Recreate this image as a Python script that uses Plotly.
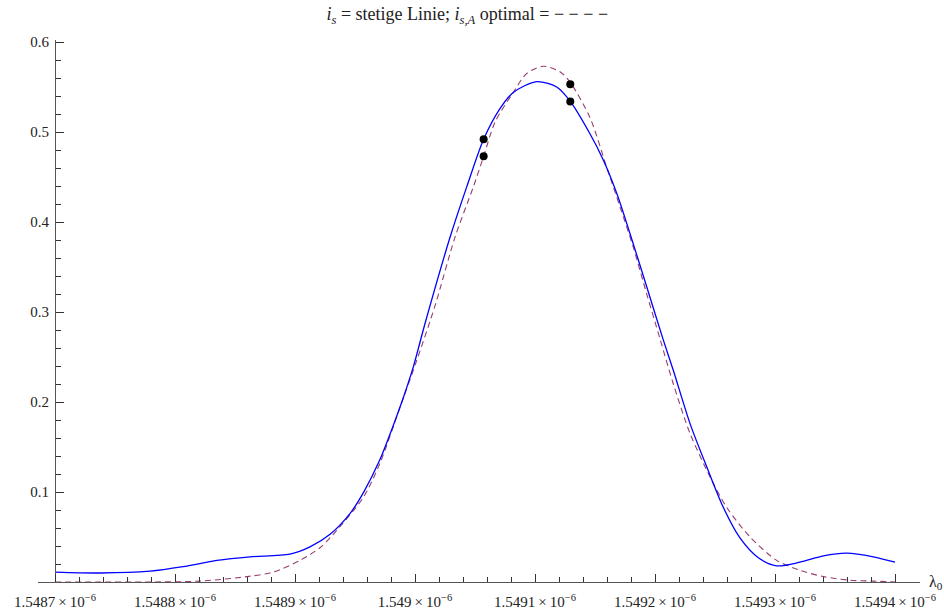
import plotly.graph_objects as go
import numpy as np

# wavelength lambda_0 in metres
x_solid = [1.5487000e-6, 1.5487375e-6, 1.5487792e-6, 1.5488067e-6, 1.5488350e-6, 1.5488625e-6,
           1.5488958e-6, 1.5489125e-6, 1.5489292e-6, 1.5489458e-6, 1.5489569e-6, 1.5489708e-6,
           1.5489819e-6, 1.5489903e-6, 1.5489986e-6, 1.5490083e-6, 1.5490292e-6, 1.5490431e-6,
           1.5490572e-6, 1.5490708e-6, 1.5490819e-6, 1.5491014e-6, 1.5491181e-6, 1.5491294e-6,
           1.5491458e-6, 1.5491569e-6, 1.5491681e-6, 1.5491792e-6, 1.5491931e-6, 1.5492069e-6,
           1.5492153e-6, 1.5492292e-6, 1.5492431e-6, 1.5492569e-6, 1.5492708e-6, 1.5492861e-6,
           1.5493014e-6, 1.5493208e-6, 1.5493403e-6, 1.5493597e-6, 1.5493819e-6, 1.5494000e-6]
y_solid = [0.011, 0.010, 0.012, 0.017, 0.024, 0.028,
           0.031, 0.039, 0.053, 0.076, 0.099, 0.136,
           0.174, 0.205, 0.239, 0.287, 0.383, 0.439,
           0.492, 0.526, 0.544, 0.556, 0.550, 0.534,
           0.498, 0.469, 0.432, 0.387, 0.328, 0.269,
           0.235, 0.176, 0.128, 0.083, 0.049, 0.027,
           0.018, 0.022, 0.029, 0.032, 0.028, 0.022]

x_dash = [1.5487000e-6, 1.5487792e-6, 1.5488208e-6, 1.5488600e-6, 1.5488817e-6, 1.5489042e-6,
          1.5489208e-6, 1.5489319e-6, 1.5489569e-6, 1.5489708e-6, 1.5489875e-6, 1.5490014e-6,
          1.5490167e-6, 1.5490333e-6, 1.5490486e-6, 1.5490572e-6, 1.5490667e-6, 1.5490819e-6,
          1.5490931e-6, 1.5491069e-6, 1.5491208e-6, 1.5491294e-6, 1.5491458e-6, 1.5491597e-6,
          1.5491708e-6, 1.5491819e-6, 1.5491931e-6, 1.5492042e-6, 1.5492153e-6, 1.5492292e-6,
          1.5492458e-6, 1.5492597e-6, 1.5492792e-6, 1.5493014e-6, 1.5493208e-6, 1.5493403e-6,
          1.5493625e-6, 1.5493817e-6, 1.5494000e-6]
y_dash = [0.000, 0.000, 0.001, 0.006, 0.011, 0.024,
          0.038, 0.053, 0.094, 0.132, 0.194, 0.246,
          0.307, 0.383, 0.439, 0.473, 0.511, 0.544,
          0.565, 0.573, 0.567, 0.555, 0.516, 0.461,
          0.417, 0.372, 0.320, 0.270, 0.220, 0.165,
          0.117, 0.083, 0.050, 0.024, 0.013, 0.006,
          0.002, 0.001, 0.000]

x_pts = [1.5490572e-6, 1.5490572e-6, 1.5491294e-6, 1.5491294e-6]
y_pts = [0.492, 0.473, 0.553, 0.534]

x_ticks = [1.5487e-6, 1.5488e-6, 1.5489e-6, 1.5490e-6, 1.5491e-6, 1.5492e-6, 1.5493e-6, 1.5494e-6]
x_tick_mant = ["1.5487", "1.5488", "1.5489", "1.549", "1.5491", "1.5492", "1.5493", "1.5494"]
y_ticks = [0.1, 0.2, 0.3, 0.4, 0.5, 0.6]
y_tick_text = ["0.1", "0.2", "0.3", "0.4", "0.5", "0.6"]

x_ticktext = [m + "\u2009×\u200910<sup>−6</sup>" for m in x_tick_mant]

# minor ticks
x_minor = []
for i in range(len(x_ticks) - 1):
    for k in range(1, 5):
        x_minor.append(x_ticks[i] + k * (x_ticks[i + 1] - x_ticks[i]) / 5)
y_minor = [round(0.02 * k, 2) for k in range(1, 30) if k % 5 != 0]

W, H = 944, 613
ml, mr, mt, mb = 38, 24, 40, 31
x0_px = 55
px_per_unit_x = 120 / 1e-10
xr = [x_ticks[0] - (x0_px - ml) / px_per_unit_x,
      x_ticks[0] + (W - ml - mr - (x0_px - ml)) / px_per_unit_x]
yr = [0, (H - mt - mb) / 900.0]

FONT = "Liberation Serif"
blue = "#0000ff"
purple = "rgb(153,61,113)"

fig = go.Figure()
fig.add_trace(go.Scatter(x=x_dash, y=y_dash, mode="lines", line=dict(color=purple, width=1.1, dash="6px,4px", shape="spline", smoothing=0.8), showlegend=False))
fig.add_trace(go.Scatter(x=x_solid, y=y_solid, mode="lines", line=dict(color=blue, width=1.3, shape="spline", smoothing=0.8), showlegend=False))
fig.add_trace(go.Scatter(x=x_pts, y=y_pts, mode="markers", marker=dict(color="black", size=8), showlegend=False))

fig.update_layout(
    width=W, height=H,
    margin=dict(l=ml, r=mr, t=mt, b=mb, autoexpand=False),
    paper_bgcolor="white", plot_bgcolor="white",
    font=dict(family=FONT, size=14, color="#222"),
    title=dict(text="<i>i</i><sub><i>s</i></sub> = stetige Linie; <i>i</i><sub><i>s,A</i></sub> optimal = − − − −",
               x=0.495, xanchor="center", y=1 - 14 / H, yanchor="middle", yref="container",
               font=dict(family=FONT, size=18, color="#222")),
    xaxis=dict(range=xr, showgrid=False, zeroline=False, showline=True, linecolor="#555", linewidth=1,
               automargin=False,
               ticks="inside", ticklen=8, tickwidth=1, tickcolor="#333",
               tickmode="array", tickvals=x_ticks, ticktext=x_ticktext, ticklabelstandoff=6,
               minor=dict(tickmode="array", tickvals=x_minor, ticks="inside", ticklen=5, tickcolor="#333", tickwidth=1, showgrid=False),
               tickfont=dict(family=FONT, size=15, color="#222")),
    yaxis=dict(range=yr, showgrid=False, zeroline=False, showline=True, linecolor="#555", linewidth=1,
               automargin=False,
               anchor="free", position=(x0_px - ml) / (W - ml - mr),
               ticks="inside", ticklen=8, tickwidth=1, tickcolor="#333",
               tickmode="array", tickvals=y_ticks, ticktext=y_tick_text, ticklabelstandoff=3,
               minor=dict(tickmode="array", tickvals=y_minor, ticks="inside", ticklen=5, tickcolor="#333", tickwidth=1, showgrid=False),
               tickfont=dict(family=FONT, size=15, color="#222")),
)

fig.add_annotation(text="λ<sub>0</sub>", xref="paper", yref="paper",
                   x=(927 - ml) / (W - ml - mr), y=(H - mb - 582) / (H - mt - mb),
                   xanchor="left", yanchor="middle", showarrow=False,
                   font=dict(family=FONT, size=16, color="#222"))

fig.write_html("out.html")
